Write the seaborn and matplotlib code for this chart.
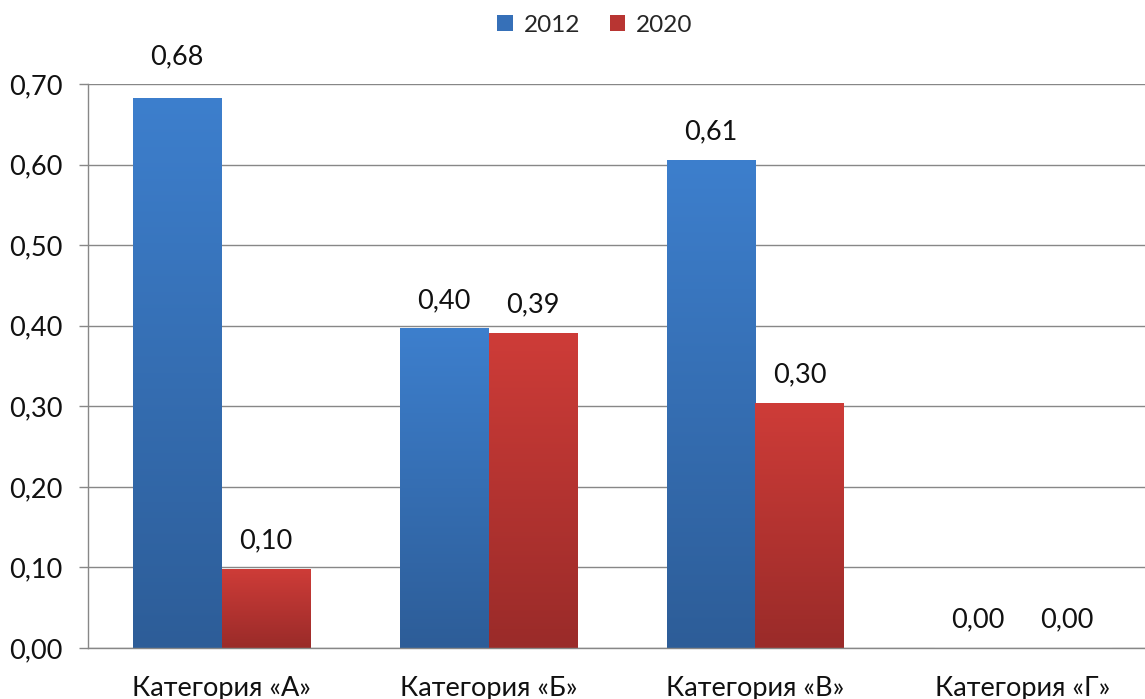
import numpy as np
import pandas as pd
import matplotlib
matplotlib.use("Agg")
import matplotlib.pyplot as plt
import seaborn as sns
from matplotlib.patches import Patch

# Data
categories = ["Категория «А»", "Категория «Б»", "Категория «В»", "Категория «Г»"]
years = ["2012", "2020"]
values_2012 = [0.683, 0.397, 0.606, 0.0]
values_2020 = [0.098, 0.391, 0.304, 0.0]
y_ticks = [0.0, 0.1, 0.2, 0.3, 0.4, 0.5, 0.6, 0.7]

df = pd.DataFrame({
    "category": categories * 2,
    "year": [years[0]] * len(categories) + [years[1]] * len(categories),
    "value": values_2012 + values_2020,
})

sns.set_theme(style="white")
plt.rcParams["font.family"] = ["Lato", "DejaVu Sans"]

FS = 19.5
W, H = 1145, 699
fig = plt.figure(figsize=(W / 100, H / 100), dpi=100)
ax = fig.add_axes([88 / W, 51 / H, (1156 - 88) / W, (648 - 84) / H])

mid_colors = {"2012": "#3670b8", "2020": "#b83532"}
grad = {"2012": ("#3d7fcd", "#2d5d98"), "2020": ("#ce3c38", "#9a2b29")}

sns.barplot(data=df, x="category", y="value", hue="year", hue_order=years,
            palette=mid_colors, width=2 / 3, saturation=1, errorbar=None,
            legend=False, ax=ax)

def fmt(v):
    return f"{v:.2f}".replace(".", ",")

# vertical gradient fill for each bar, with value label above
for year, cont in zip(years, ax.containers):
    top_c = np.array(matplotlib.colors.to_rgb(grad[year][0]))
    bot_c = np.array(matplotlib.colors.to_rgb(grad[year][1]))
    t = np.linspace(0, 1, 256)[:, None]
    img = (bot_c[None, :] * (1 - t) + top_c[None, :] * t)[:, None, :]
    for patch in cont.patches:
        x0 = patch.get_x()
        w = patch.get_width()
        h = patch.get_height()
        if h > 0:
            im = ax.imshow(img, extent=(x0, x0 + w, 0, h), origin="lower",
                           aspect="auto", zorder=2, interpolation="bilinear")
            im.set_clip_path(patch)
            patch.set_facecolor("none")
            patch.set_edgecolor("none")
        # the tallest label sits higher, clear of the top gridline
        dy = 29.5 if h >= 0.65 else 20
        ax.annotate(fmt(h), (x0 + w / 2, h), xytext=(0, dy),
                    textcoords="offset points", ha="center", va="center",
                    fontsize=FS, color="#111111")

ax.set_xlim(-0.5, 3.5)
ax.set_ylim(0, 0.7)
ax.set_yticks(y_ticks)
ax.set_yticklabels([fmt(t) for t in y_ticks])
ax.set_xticks(range(len(categories)))
ax.set_xticklabels(categories)
ax.set_xticks([-0.5, 0.5, 1.5, 2.5, 3.5], minor=True)
ax.set_xlabel("")
ax.set_ylabel("")

ax.tick_params(axis="x", which="major", length=0, pad=20, labelsize=FS, labelcolor="#111111")
ax.tick_params(axis="x", which="minor", length=6, width=1, color="#878787", direction="out")
ax.tick_params(axis="y", length=6.5, width=1, color="#878787", direction="out", pad=12,
               labelsize=FS, labelcolor="#111111", left=True)

ax.yaxis.grid(True, color="#878787", lw=1)
ax.set_axisbelow(True)
for s in ["top", "right"]:
    ax.spines[s].set_visible(False)
for s in ["left", "bottom"]:
    ax.spines[s].set_color("#878787")
    ax.spines[s].set_linewidth(1)

handles = [Patch(facecolor=mid_colors[y], edgecolor="none", label=y) for y in years]
fig.legend(handles=handles, loc="center", bbox_to_anchor=(595 / W, 1 - 25 / H), ncol=2,
           frameon=False, handlelength=0.65, handleheight=0.65, handletextpad=0.45,
           columnspacing=1.2, fontsize=17.5)

fig.savefig("out.png", dpi=100)
